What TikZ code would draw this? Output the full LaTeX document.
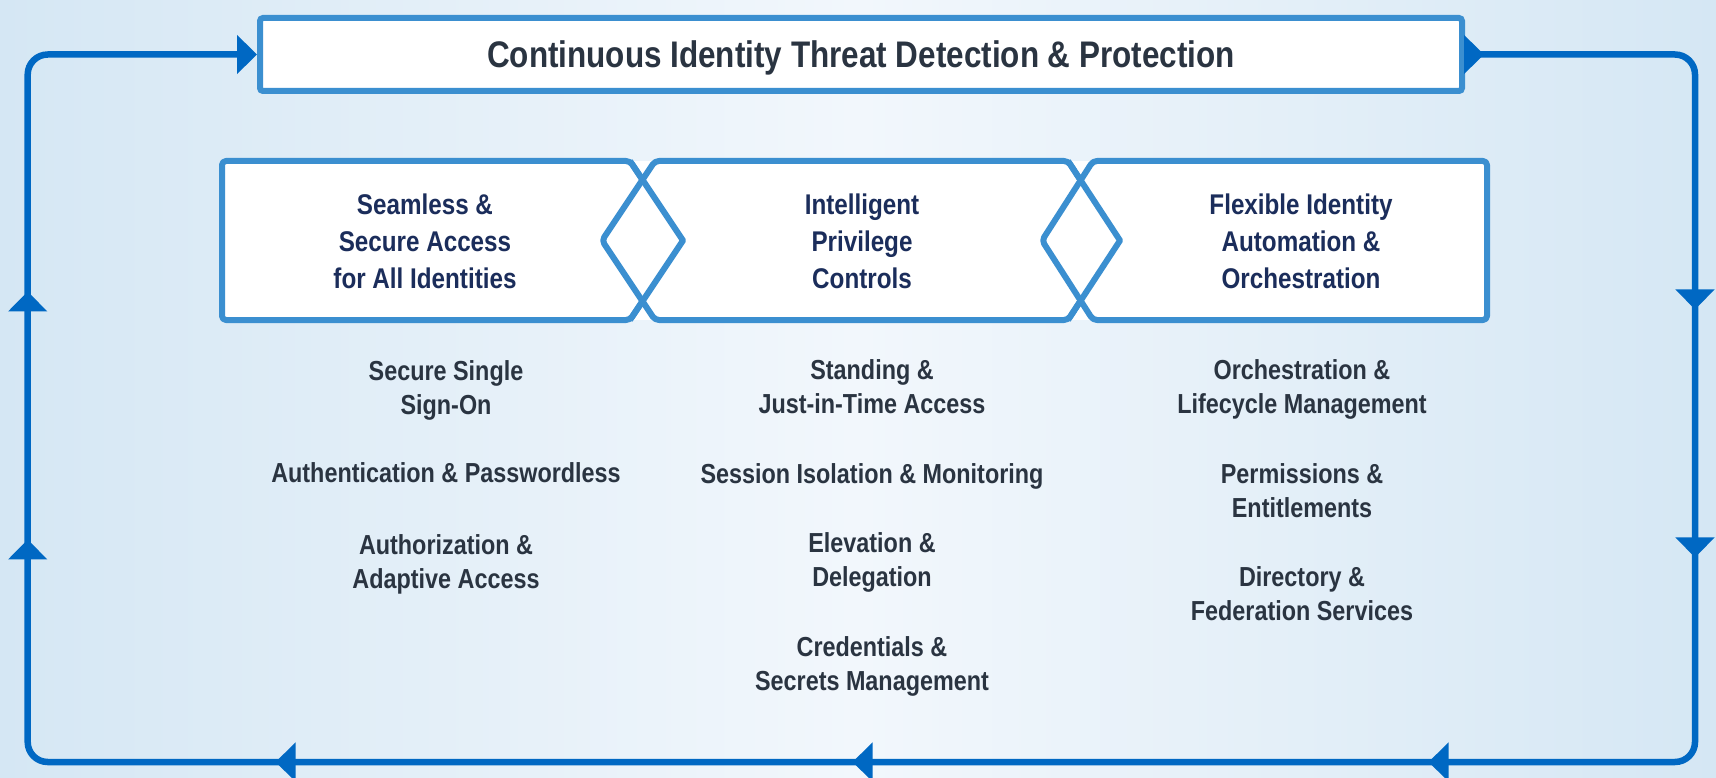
\documentclass[tikz,border=0pt]{standalone}
\usepackage{fontspec}
\setmainfont{Liberation Sans}[FakeStretch=0.85]
\usetikzlibrary{arrows.meta,decorations.markings}
\definecolor{loopblue}{HTML}{0068C3}
\definecolor{boxblue}{HTML}{3B8FD0}
\definecolor{navy}{HTML}{1B2D5B}
\definecolor{slate}{HTML}{2A3441}
\definecolor{bgedge}{HTML}{D5E7F4}
\definecolor{bgmid}{HTML}{F2F7FC}
\begin{document}
\begin{tikzpicture}[x=1pt,y=-1pt,
  titlebox/.style={draw=boxblue, line width=6pt, fill=white, rounded corners=3pt,
    minimum width=1202pt, minimum height=73pt, inner sep=0pt, text depth=0pt,
    font=\fontsize{37}{40}\selectfont\bfseries, text=slate},
  hdrbox/.style={draw=boxblue, line width=6pt, fill=white, rounded corners=4pt, line join=round},
  hdrtext/.style={align=center, inner sep=0pt, text=navy,
    font=\fontsize{28.5}{37}\selectfont\bfseries},
  itemtext/.style={align=center, inner sep=0pt, text=slate,
    font=\fontsize{27.5}{34}\selectfont\bfseries},
  looparrow/.style={draw=loopblue, line width=6.5pt, rounded corners=20pt,
    -{Triangle[length=20pt,width=38pt]},
    postaction={decorate},
    decoration={markings,
      mark=at position 19pt with {\arrow[loopblue]{Triangle[length=20pt,width=38pt]}},
      mark=at position 476.4pt with {\arrow[loopblue]{Triangle[length=20pt,width=38pt]}},
      mark=at position 724.4pt with {\arrow[loopblue]{Triangle[length=20pt,width=38pt]}},
      mark=at position 1186.8pt with {\arrow[loopblue]{Triangle[length=20pt,width=38pt]}},
      mark=at position 1762.8pt with {\arrow[loopblue]{Triangle[length=20pt,width=38pt]}},
      mark=at position 2339.8pt with {\arrow[loopblue]{Triangle[length=20pt,width=38pt]}},
      mark=at position 2801.6pt with {\arrow[loopblue]{Triangle[length=20pt,width=38pt]}},
      mark=at position 3049.6pt with {\arrow[loopblue]{Triangle[length=20pt,width=38pt]}}}}
]
\useasboundingbox (0,0) rectangle (1716,778);
\clip (0,0) rectangle (1716,778);
\shade[left color=bgedge, right color=bgedge, middle color=bgmid] (0,0) rectangle (1716,778);

% title
\node[titlebox] (title) at (861,54.5) {Continuous Identity Threat Detection \& Protection};

% loop
\coordinate (tr) at (1695,54.5);
\coordinate (br) at (1695,762);
\coordinate (bl) at (27.7,762);
\coordinate (tl) at (27.7,54.5);
\draw[looparrow] (title.east) -- (tr) -- (br) -- (bl) -- (tl) -- (title.west);

% header band
\fill[white] (626,161) rectangle (1097,320);
\draw[hdrbox] (222,161) -- (630,161) -- (683,240.5) -- (630,320) -- (222,320) -- cycle;
\draw[hdrbox] (655,161) -- (1068,161) -- (1120,240.5) -- (1068,320) -- (655,320) -- (602,240.5) -- cycle;
\draw[hdrbox] (1093,161) -- (1487,161) -- (1487,320) -- (1093,320) -- (1042,240.5) -- cycle;
\draw[boxblue, line width=6pt, line join=round] (630,161) -- (683,240.5) -- (630,320);
\draw[boxblue, line width=6pt, line join=round] (1068,161) -- (1120,240.5) -- (1068,320);

\node[hdrtext] (h1) at (425,241) {Seamless \&\\Secure Access\\for All Identities};
\node[hdrtext] (h2) at (862,241) {Intelligent\\Privilege\\Controls};
\node[hdrtext] (h3) at (1301,241) {Flexible Identity\\Automation \&\\Orchestration};

% column 1
\node[itemtext] (a1) at (446,390) {Secure Single\\Sign-On};
\node[itemtext] (a2) at (446,473) {Authentication \& Passwordless};
\node[itemtext] (a3) at (446,564) {Authorization \&\\Adaptive Access};
% column 2
\node[itemtext] (b1) at (872,387) {Standing \&\\Just-in-Time Access};
\node[itemtext] (b2) at (872,476) {Session Isolation \& Monitoring};
\node[itemtext] (b3) at (872,562.4) {Elevation \&\\Delegation};
\node[itemtext] (b4) at (872,666) {Credentials \&\\Secrets Management};
% column 3
\node[itemtext] (c1) at (1302,389.4) {Orchestration \&\\Lifecycle Management};
\node[itemtext] (c2) at (1302,490.5) {Permissions \&\\Entitlements};
\node[itemtext] (c3) at (1302,594) {Directory \&\\Federation Services};
\end{tikzpicture}
\end{document}
